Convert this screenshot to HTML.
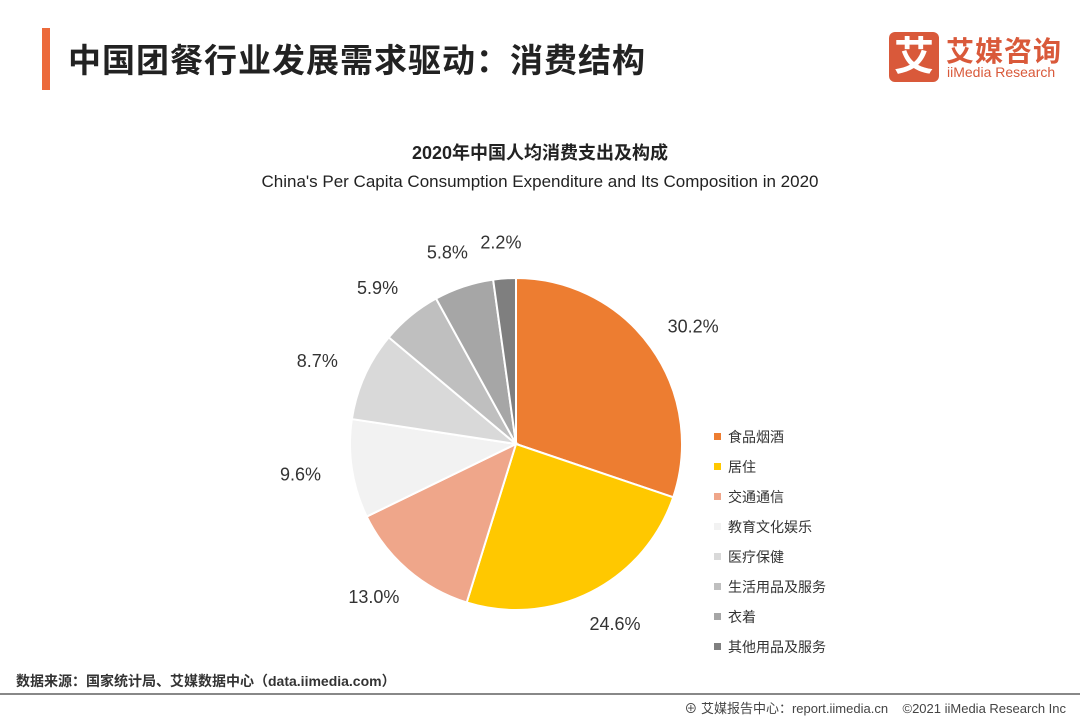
<!DOCTYPE html>
<html><head><meta charset="utf-8"><style>
body{margin:0;width:1080px;height:720px;background:#fff;overflow:hidden;font-family:"Liberation Sans","Noto Sans CJK SC",sans-serif;position:relative}
.abs{position:absolute}
</style></head><body>
<div class="abs" style="left:42px;top:28px;width:8px;height:62px;background:#EC6A3B"></div>
<div class="abs" style="left:68px;top:34px;font-size:33px;font-weight:bold;color:#222;letter-spacing:1px">中国团餐行业发展需求驱动：消费结构</div>
<div class="abs" style="left:889px;top:32px;width:50px;height:50px;background:#D9593A;border-radius:6px;color:#fff;font-size:40px;font-weight:bold;text-align:center;line-height:50px">艾</div>
<div class="abs" style="left:946px;top:30px;font-size:28px;font-weight:bold;color:#D9593A;letter-spacing:1px">艾媒咨询</div>
<div class="abs" style="left:947px;top:64px;font-size:14px;color:#D9593A">iiMedia Research</div>
<div class="abs" style="left:0;width:1080px;top:139px;text-align:center;font-size:18px;font-weight:bold;color:#222">2020年中国人均消费支出及构成</div>
<div class="abs" style="left:0;width:1080px;top:172px;text-align:center;font-size:17px;color:#222">China's Per Capita Consumption Expenditure and Its Composition in 2020</div>
<svg class="abs" style="left:0;top:0" width="1080" height="720" id="chart"></svg>
<div class="abs" style="left:16px;top:671px;font-size:14px;font-weight:bold;color:#333">数据来源：国家统计局、艾媒数据中心（data.iimedia.com）</div>
<div class="abs" style="left:0;top:693px;width:1080px;height:2px;background:#888"></div>
<div class="abs" style="right:14px;top:698px;font-size:13px;color:#444">⊕ 艾媒报告中心：report.iimedia.cn &nbsp;&nbsp; ©2021 iiMedia Research Inc</div>
<script>
const categories=["食品烟酒","居住","交通通信","教育文化娱乐","医疗保健","生活用品及服务","衣着","其他用品及服务"];
const values=[30.2,24.6,13.0,9.6,8.7,5.9,5.8,2.2];
const labels=["30.2%","24.6%","13.0%","9.6%","8.7%","5.9%","5.8%","2.2%"];
const colors=["#ED7D31","#FFC800","#EFA68A","#F2F2F2","#D9D9D9","#BFBFBF","#A6A6A6","#7F7F7F"];
const svg=document.getElementById('chart');const NS="http://www.w3.org/2000/svg";
const cx=516,cy=444,r=166;
const total=values.reduce((a,b)=>a+b,0);
let acc=0;
function pt(a,rr){return [cx+rr*Math.sin(a),cy-rr*Math.cos(a)];}
values.forEach((v,i)=>{
 const a0=acc/total*2*Math.PI;acc+=v;const a1=acc/total*2*Math.PI;
 const p0=pt(a0,r),p1=pt(a1,r);
 const path=document.createElementNS(NS,'path');
 path.setAttribute('d',`M${cx},${cy}L${p0[0]},${p0[1]}A${r},${r} 0 ${a1-a0>Math.PI?1:0} 1 ${p1[0]},${p1[1]}Z`);
 path.setAttribute('fill',colors[i]);path.setAttribute('stroke','#fff');path.setAttribute('stroke-width','2');
 
 
 svg.appendChild(path);
 const am=(a0+a1)/2;const lp=pt(am,192);
 const lx=lp[0]+Math.sin(am)*26,ly=lp[1]-Math.cos(am)*10;
 const t=document.createElementNS(NS,'text');
 t.setAttribute('x',lx);t.setAttribute('y',ly+6);t.setAttribute('text-anchor','middle');
 t.setAttribute('font-size','18');t.setAttribute('fill','#333');t.textContent=labels[i];
 
 
 svg.appendChild(t);
 const sq=document.createElementNS(NS,'rect');
 sq.setAttribute('x',714);sq.setAttribute('y',433+i*30);sq.setAttribute('width',7);sq.setAttribute('height',7);sq.setAttribute('fill',colors[i]);
 
 
 svg.appendChild(sq);
 const lt=document.createElementNS(NS,'text');
 lt.setAttribute('x',728);lt.setAttribute('y',442+i*30);lt.setAttribute('font-size','14');lt.setAttribute('fill','#333');lt.textContent=categories[i];
 
 
 svg.appendChild(lt);
});
</script>
</body></html>
